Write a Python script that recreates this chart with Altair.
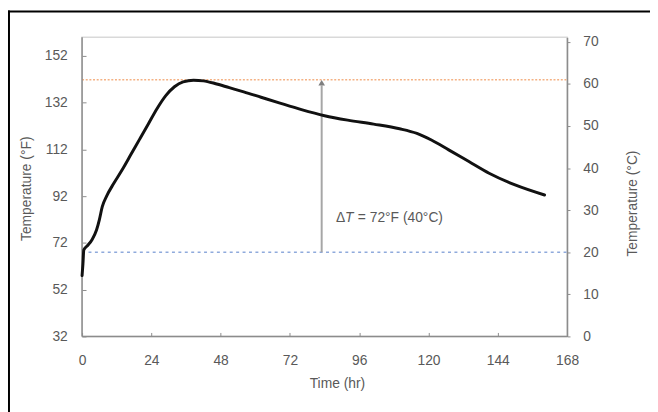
import altair as alt
import pandas as pd

# Curve readings (time in hr, temperature in °F)
time_hr = [0, 0.3, 0.6, 2, 3.5, 5, 6, 7, 8.5, 11, 14, 17, 20, 23, 26, 29, 32, 35,
           38.6, 42, 46, 51, 56, 62, 68, 76, 84, 92, 101, 110, 116, 121, 127, 134,
           141, 150, 160.2]
temp_f = [58, 63, 69, 71, 73.5, 77.5, 82, 87.5, 92, 97.5, 103.5, 110, 116.5, 123,
          129.5, 135, 138.8, 140.9, 141.6, 141.3, 140.2, 138.4, 136.6, 134.3, 132,
          129, 126.4, 124.5, 122.8, 120.8, 118.8, 116, 111.8, 106.8, 101.8, 96.8, 92.5]

x_ticks = [0, 24, 48, 72, 96, 120, 144, 168]
f_ticks = [32, 52, 72, 92, 112, 132, 152]
c_ticks = [0, 10, 20, 30, 40, 50, 60, 70]

ambient_c = 20
peak_c = 61
ambient_f = 68
peak_f = 141.8
arrow_t = 83
label_t = 88
label_f = 82.7

FONT = "Liberation Sans"
GRAY = "#595959"
X_DOM = [0, 168]
F_DOM = [32, 160]
C_DOM = [0, (160 - 32) / 1.8]

curve = pd.DataFrame({"t": time_hr, "f": temp_f})

xs = alt.Scale(domain=X_DOM, nice=False, zero=False)
fs = alt.Scale(domain=F_DOM, nice=False, zero=False)
cs = alt.Scale(domain=C_DOM, nice=False, zero=False)

x_axis = alt.Axis(values=x_ticks, title="Time (hr)", offset=-4, tickSize=4, domain=False,
                  grid=False, labelPadding=17, labelFontSize=14, labelColor=GRAY,
                  labelFont=FONT, tickColor="#8c8c8c", titleFont=FONT, titleFontSize=14,
                  titleColor=GRAY, titleFontWeight="normal", titleY=52, titleX=258,
                  titleBaseline="middle", titleAlign="center", labelFlush=False)
f_axis = alt.Axis(values=f_ticks, title="Temperature (°F)", offset=-4, tickSize=4,
                  domain=False, grid=False, labelPadding=15, labelFontSize=14,
                  labelColor=GRAY, labelFont=FONT, tickColor="#8c8c8c", titleFont=FONT,
                  titleFontSize=14, titleColor=GRAY, titleFontWeight="normal",
                  titleX=-60, titleY=153, titleAngle=270, titleBaseline="middle",
                  titleAlign="center", orient="left")
c_axis = alt.Axis(values=c_ticks, title="Temperature (°C)", tickSize=3, domain=True,
                  domainColor="#8c8c8c", domainWidth=1.5, grid=False, labelPadding=13,
                  labelFontSize=14, labelColor=GRAY, labelFont=FONT, tickColor="#8c8c8c",
                  titleFont=FONT, titleFontSize=14, titleColor=GRAY,
                  titleFontWeight="normal", titleX=66, titleY=168, titleAngle=270,
                  titleBaseline="middle", titleAlign="center", orient="right")

base = alt.Chart(curve)

line = base.mark_line(color="#111111", strokeWidth=3, strokeCap="round",
                      interpolate="monotone").encode(
    x=alt.X("t:Q", scale=xs, axis=x_axis),
    y=alt.Y("f:Q", scale=fs, axis=f_axis),
)

one = pd.DataFrame({"a": [0]})

left_border = alt.Chart(one).mark_rule(color="#8c8c8c", strokeWidth=1.5).encode(
    x=alt.datum(0, scale=xs), y=alt.datum(F_DOM[0], scale=fs), y2=alt.datum(F_DOM[1]))
bottom_border = alt.Chart(one).mark_rule(color="#8c8c8c", strokeWidth=1.5).encode(
    x=alt.datum(0, scale=xs), x2=alt.datum(168), y=alt.datum(F_DOM[0], scale=fs))

arrow_df = pd.DataFrame({"t": [arrow_t], "f0": [ambient_f], "f1": [peak_f - 2.5],
                         "fh": [peak_f - 1.3]})
arrow = alt.Chart(arrow_df).mark_rule(color="#a6a6a6", strokeWidth=2).encode(
    x=alt.X("t:Q", scale=xs), y=alt.Y("f0:Q", scale=fs), y2="f1:Q")
head = alt.Chart(arrow_df).mark_point(shape="triangle-up", filled=True, size=45,
                                      color="#7f7f7f", opacity=1).encode(
    x=alt.X("t:Q", scale=xs), y=alt.Y("fh:Q", scale=fs))

lab_df = pd.DataFrame({"t": [label_t], "f": [label_f]})
lab1 = alt.Chart(lab_df).mark_text(text="Δ", align="left", baseline="middle",
                                   font=FONT, fontSize=14, color=GRAY).encode(
    x=alt.X("t:Q", scale=xs), y=alt.Y("f:Q", scale=fs))
lab2 = alt.Chart(lab_df).mark_text(text="T", align="left", baseline="middle", dx=9,
                                   font=FONT, fontSize=14, fontStyle="italic",
                                   color=GRAY).encode(
    x=alt.X("t:Q", scale=xs), y=alt.Y("f:Q", scale=fs))
lab3 = alt.Chart(lab_df).mark_text(text="= 72°F (40°C)", align="left", baseline="middle",
                                   dx=22, font=FONT, fontSize=14, color=GRAY).encode(
    x=alt.X("t:Q", scale=xs), y=alt.Y("f:Q", scale=fs))

frame_top = alt.Chart(one).mark_rule(color="#000000", strokeWidth=2).encode(
    x=alt.value(-75), x2=alt.value(580), y=alt.value(-26))
frame_left = alt.Chart(one).mark_rule(color="#000000", strokeWidth=2).encode(
    x=alt.value(-74), y=alt.value(-27), y2=alt.value(380))

left_layer = alt.layer(left_border, bottom_border, arrow, head, line, lab1, lab2, lab3,
                       frame_top, frame_left)

ref_df = pd.DataFrame({"c": [ambient_c, peak_c], "kind": ["ambient", "peak"]})
ref_amb = alt.Chart(ref_df[ref_df.kind == "ambient"]).mark_rule(
    color="#8faadc", strokeWidth=1.5, strokeDash=[3, 3.5]).encode(
    x=alt.datum(0, scale=xs), x2=alt.datum(168),
    y=alt.Y("c:Q", scale=cs, axis=c_axis))
ref_peak = alt.Chart(ref_df[ref_df.kind == "peak"]).mark_rule(
    color="#f4b183", strokeWidth=1.5, strokeDash=[2, 1.7]).encode(
    x=alt.datum(0, scale=xs), x2=alt.datum(168),
    y=alt.Y("c:Q", scale=cs, axis=c_axis))
right_layer = alt.layer(ref_amb, ref_peak)

chart = alt.layer(right_layer, left_layer).resolve_scale(y="independent").properties(
    width=491, height=303,
    autosize=alt.AutoSizeParams(type="none"),
    padding={"left": 75, "top": 27, "right": 84, "bottom": 74},
    background="white",
).configure_view(stroke="#d9d9d9", strokeWidth=1.5)

chart.save("out.html", embed_options={"renderer": "svg", "actions": False})
